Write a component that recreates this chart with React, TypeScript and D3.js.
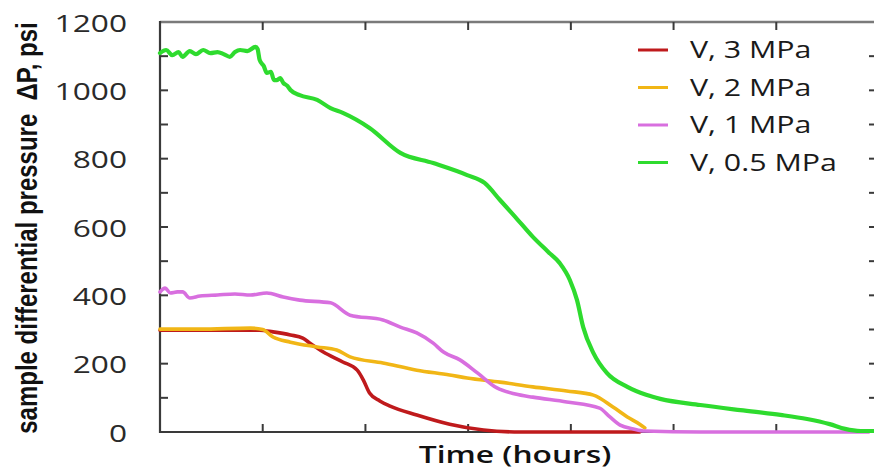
import React from "react";
import * as d3 from "d3";

// ---- data (time in hours, ΔP in psi) ----
const seriesNames = ["V, 3 MPa", "V, 2 MPa", "V, 1 MPa", "V, 0.5 MPa"];

const tRed = [0, 0.97, 1.1, 1.27, 1.39, 1.46, 1.59, 1.78, 1.92, 1.98, 2.04, 2.14, 2.24, 2.5, 2.82, 3.15, 3.51, 4.67];
const vRed = [298, 298, 293, 284, 275, 260, 234, 205, 181, 152, 114, 91, 76, 50, 23, 6, 0, 0];

const tYellow = [0, 0.39, 0.88, 1.0, 1.1, 1.27, 1.53, 1.72, 1.85, 2.17, 2.5, 2.82, 2.99, 3.31, 3.63, 3.96, 4.22, 4.41, 4.55, 4.67, 4.72];
const vYellow = [301, 301, 304, 300, 278, 263, 249, 240, 220, 202, 181, 167, 158, 146, 132, 120, 108, 73, 44, 23, 12];

const tPink = [0, 0.05, 0.1, 0.17, 0.22, 0.29, 0.39, 0.56, 0.73, 0.88, 1.04, 1.2, 1.36, 1.66, 1.85, 2.17, 2.34, 2.5, 2.66, 2.76, 2.92, 3.09, 3.28, 3.46, 3.63, 3.96, 4.28, 4.38, 4.48, 4.61, 4.72, 5.26, 6.9];
const vPink = [410, 421, 407, 410, 410, 392, 398, 401, 404, 401, 407, 395, 386, 378, 342, 328, 307, 290, 260, 234, 211, 173, 129, 111, 102, 88, 70, 44, 20, 9, 3, 0, 0];

const tGreen = [0, 0.06, 0.12, 0.18, 0.22, 0.29, 0.35, 0.42, 0.49, 0.56, 0.62, 0.68, 0.73, 0.78, 0.85, 0.93, 0.95, 0.97, 1.01, 1.04, 1.08, 1.11, 1.14, 1.17, 1.2, 1.24, 1.27, 1.36, 1.53, 1.66, 1.78, 2.04, 2.34, 2.66, 2.99, 3.16, 3.31, 3.46, 3.63, 3.78, 3.89, 3.99, 4.06, 4.12, 4.22, 4.35, 4.55, 4.74, 4.87, 5.26, 5.65, 6.04, 6.3, 6.52, 6.67, 6.82, 7.0];
const vGreen = [1109, 1118, 1103, 1112, 1098, 1115, 1106, 1118, 1109, 1112, 1106, 1098, 1112, 1118, 1115, 1127, 1121, 1089, 1071, 1051, 1054, 1030, 1030, 1036, 1022, 1013, 1001, 986, 972, 948, 934, 890, 817, 787, 752, 729, 679, 629, 571, 527, 495, 445, 386, 307, 231, 173, 132, 108, 97, 79, 64, 50, 38, 23, 9, 3, 3];

const seriesColors = ["#bf1a1c", "#f1b616", "#d86fdf", "#2edb2e"];
const seriesT = [tRed, tYellow, tPink, tGreen];
const seriesV = [vRed, vYellow, vPink, vGreen];

const yTicks = [0, 100, 200, 300, 400, 500, 600, 700, 800, 900, 1000, 1100, 1200];
const yLabels = [0, 200, 400, 600, 800, 1000, 1200];
const xTicks = [1, 2, 3, 4, 5, 6];

const yTitle = "sample differential pressure  ΔP, psi";
const xTitle = "Time (hours)";

// ---- layout ----
const W = 874;
const H = 472;
const L = 160, R = 879, T = 22, B = 432;
const SX = 1.32;
const FONT = "'Open Sans', 'DejaVu Sans', sans-serif";

export default function App() {
  const x = d3.scaleLinear().domain([0, 7]).range([L, R]);
  const y = d3.scaleLinear().domain([0, 1200]).range([B, T]);
  const line = d3
    .line<[number, number]>()
    .x((d) => x(d[0]))
    .y((d) => y(d[1]))
    .curve(d3.curveMonotoneX);

  const axisColor = "#3a3a3a";
  const tickLen = 8;

  return (
    <div style={{ position: "absolute", left: 0, top: 0 }}>
      <svg width={W} height={H} style={{ display: "block", background: "#fff" }}>
        {/* frame */}
        <line x1={L} y1={T} x2={W} y2={T} stroke="#7a7a7a" strokeWidth={2.5} />
        <line x1={L} y1={T - 1} x2={L} y2={B + 1} stroke={axisColor} strokeWidth={2.2} />
        <line x1={L - 1} y1={B} x2={W} y2={B} stroke={axisColor} strokeWidth={2.2} />
        <line x1={R} y1={T} x2={R} y2={B} stroke={axisColor} strokeWidth={2.2} />

        {/* y ticks left & right */}
        {yTicks.filter((v) => v > 0 && v < 1200).map((v) => (
          <g key={"yt" + v}>
            <line x1={L} x2={L + tickLen} y1={y(v)} y2={y(v)} stroke={axisColor} strokeWidth={2} />
            <line x1={R - 10} x2={R} y1={y(v)} y2={y(v)} stroke={axisColor} strokeWidth={2} />
          </g>
        ))}
        {/* x ticks bottom & top */}
        {xTicks.map((t) => (
          <g key={"xt" + t}>
            <line x1={x(t)} x2={x(t)} y1={B} y2={B - tickLen} stroke={axisColor} strokeWidth={2} />
            <line x1={x(t)} x2={x(t)} y1={T} y2={T + tickLen} stroke={axisColor} strokeWidth={2} />
          </g>
        ))}

        {/* y tick labels */}
        {yLabels.map((v) => (
          <text
            key={"yl" + v}
            transform={`translate(127,${y(v) + 9.5}) scale(${SX},1)`}
            textAnchor="end"
            fontFamily={FONT}
            fontSize={24}
            fill="#2a2a2a"
          >
            {v}
          </text>
        ))}

        {/* y title */}
        <text
          transform={`translate(37,228) scale(1.2,1) rotate(-90)`}
          textAnchor="middle"
          fontFamily="'Liberation Sans', Arial, sans-serif"
          fontWeight="bold"
          fontSize={24}
          fill="#111"
          style={{ whiteSpace: "pre" }}
        >
          {yTitle}
        </text>

        {/* x title */}
        <text
          transform={`translate(515,463) scale(1.38,1)`}
          textAnchor="middle"
          fontFamily={FONT}
          fontWeight={600}
          fontSize={23}
          fill="#111"
        >
          {xTitle}
        </text>

        {/* series */}
        {seriesNames.map((name, i) => {
          const pts: [number, number][] = seriesT[i].map((t, j) => [t, seriesV[i][j]]);
          return (
            <path
              key={name}
              d={line(pts) || ""}
              fill="none"
              stroke={seriesColors[i]}
              strokeWidth={i === 3 ? 4.2 : 3.6}
              strokeLinejoin="round"
              strokeLinecap="round"
            />
          );
        })}

        {/* legend */}
        {seriesNames.map((name, i) => {
          const ly = 50 + i * 37.5;
          return (
            <g key={"lg" + name}>
              <line x1={638} x2={668} y1={ly} y2={ly} stroke={seriesColors[i]} strokeWidth={3} />
              <text
                transform={`translate(690,${ly + 8.3}) scale(${SX},1)`}
                fontFamily={FONT}
                fontSize={23}
                fill="#1a1a1a"
              >
                {name}
              </text>
            </g>
          );
        })}
      </svg>
    </div>
  );
}
